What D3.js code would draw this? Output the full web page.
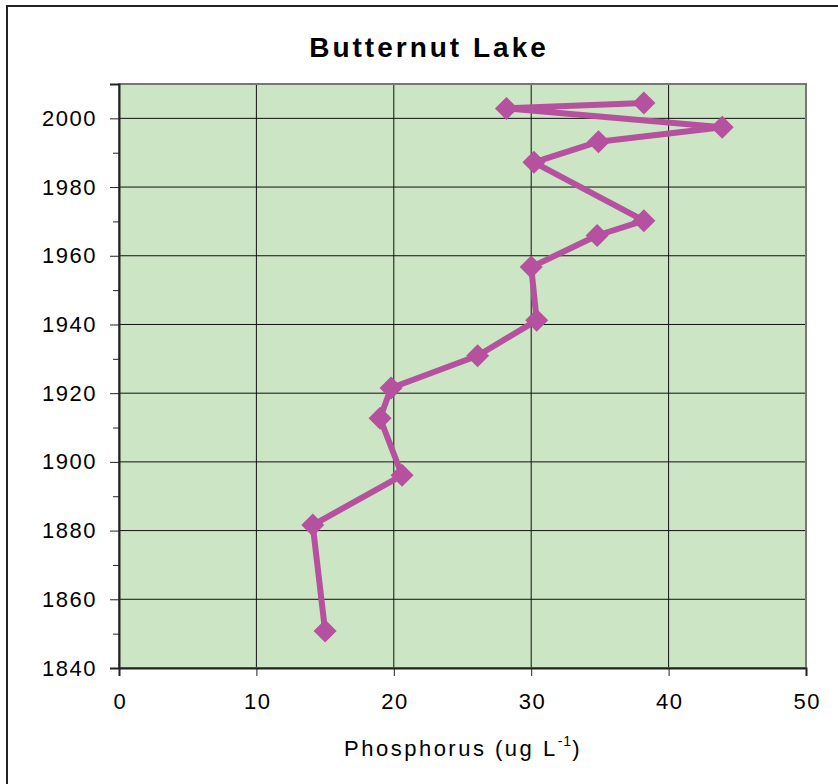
<!DOCTYPE html>
<html>
<head>
<meta charset="utf-8">
<script src="https://cdn.jsdelivr.net/npm/d3@7"></script>
<style>
  body { margin: 0; background: #fff; }
  text { font-family: "Liberation Sans", Arial, sans-serif; fill: #000; }
</style>
</head>
<body>
<svg id="chart" width="838" height="784"></svg>
<script>
// Butternut Lake - phosphorus reconstruction by year
const years      = [2004.5, 2002.9, 1997.4, 1993.2, 1987.2, 1970.2, 1965.9, 1956.7, 1941.2, 1930.9, 1921.5, 1912.7, 1896.1, 1881.6, 1850.8];
const phosphorus = [38.2, 28.2, 43.9, 34.9, 30.2, 38.2, 34.8, 30.0, 30.4, 26.1, 19.8, 19.0, 20.6, 14.1, 15.0];
const xTicks = [0, 10, 20, 30, 40, 50];
const yTicks = [1840, 1860, 1880, 1900, 1920, 1940, 1960, 1980, 2000];
const yMinor = [1850, 1870, 1890, 1910, 1930, 1950, 1970, 1990, 2010];

const margin = {top: 84, right: 32, bottom: 116, left: 119};
const width = 838, height = 784;

const svg = d3.select('#chart');

// outer frame
svg.append('rect')
   .attr('x', 7).attr('y', 6).attr('width', 840).attr('height', 800)
   .attr('fill', 'none').attr('stroke', '#222').attr('stroke-width', 2);

const x = d3.scaleLinear().domain([0, 50]).range([margin.left, width - margin.right]);
const y = d3.scaleLinear().domain([1840, 2010]).range([height - margin.bottom, margin.top]);

// plot area
svg.append('rect')
   .attr('x', x(0)).attr('y', y(2010))
   .attr('width', x(50) - x(0)).attr('height', y(1840) - y(2010))
   .attr('fill', '#cce5c4');

// gridlines
svg.append('g').selectAll('line')
   .data(xTicks.slice(1, -1)).enter().append('line')
   .attr('x1', d => x(d)).attr('x2', d => x(d))
   .attr('y1', y(2010)).attr('y2', y(1840))
   .attr('stroke', '#111').attr('stroke-width', 1);

svg.append('g').selectAll('line')
   .data(yTicks.slice(1)).enter().append('line')
   .attr('x1', x(0)).attr('x2', x(50))
   .attr('y1', d => y(d)).attr('y2', d => y(d))
   .attr('stroke', '#111').attr('stroke-width', 1);

// plot border
svg.append('rect')
   .attr('x', x(0)).attr('y', y(2010))
   .attr('width', x(50) - x(0)).attr('height', y(1840) - y(2010))
   .attr('fill', 'none').attr('stroke', '#777').attr('stroke-width', 2);

// axes
const xAxis = svg.append('g')
   .attr('transform', 'translate(0,' + y(1840) + ')')
   .call(d3.axisBottom(x).tickValues(xTicks).tickSize(8).tickPadding(17));
const yAxis = svg.append('g')
   .attr('transform', 'translate(' + x(0) + ',0)')
   .call(d3.axisLeft(y).tickValues(yTicks).tickFormat(d3.format('d')).tickSize(9).tickPadding(13));
svg.append('g')
   .attr('transform', 'translate(' + x(0) + ',0)')
   .call(d3.axisLeft(y).tickValues(yMinor).tickSize(6).tickFormat(''))
   .select('.domain').remove();

[xAxis, yAxis].forEach(a => {
  a.select('.domain').attr('stroke', '#222').attr('stroke-width', 2);
  a.selectAll('.tick text')
   .style('font-family', '"Liberation Sans", Arial, sans-serif')
   .style('font-size', '22px').style('letter-spacing', '1.5px').attr('fill', '#000');
});
xAxis.selectAll('.tick text').attr('dx', '0.75px');
svg.selectAll('.tick line').attr('stroke', '#222');

// series
const pts = years.map((yr, i) => ({year: yr, p: phosphorus[i]}));
const line = d3.line().x(d => x(d.p)).y(d => y(d.year));
svg.append('path')
   .datum(pts)
   .attr('d', line)
   .attr('fill', 'none')
   .attr('stroke', '#b5519f')
   .attr('stroke-width', 6)
   .attr('stroke-linejoin', 'round');

const diamond = 'M0,-11.5L11.5,0L0,11.5L-11.5,0Z';
svg.append('g').selectAll('path')
   .data(pts).enter().append('path')
   .attr('d', diamond)
   .attr('transform', d => 'translate(' + x(d.p) + ',' + y(d.year) + ')')
   .attr('fill', '#b5519f');

// title
svg.append('text')
   .attr('x', 429).attr('y', 57)
   .attr('text-anchor', 'middle')
   .style('font-size', '28px').style('font-weight', 'bold').style('letter-spacing', '3px')
   .text('Butternut Lake');

// x-axis title
const xt = svg.append('text')
   .attr('x', 463).attr('y', 756)
   .attr('text-anchor', 'middle')
   .style('font-size', '22px').style('letter-spacing', '2.5px');
xt.append('tspan').text('Phosphorus (ug L');
xt.append('tspan').attr('dy', -10).style('font-size', '14px').style('letter-spacing', '1px').text('-1');
xt.append('tspan').attr('dy', 10).text(')');
</script>
</body>
</html>
